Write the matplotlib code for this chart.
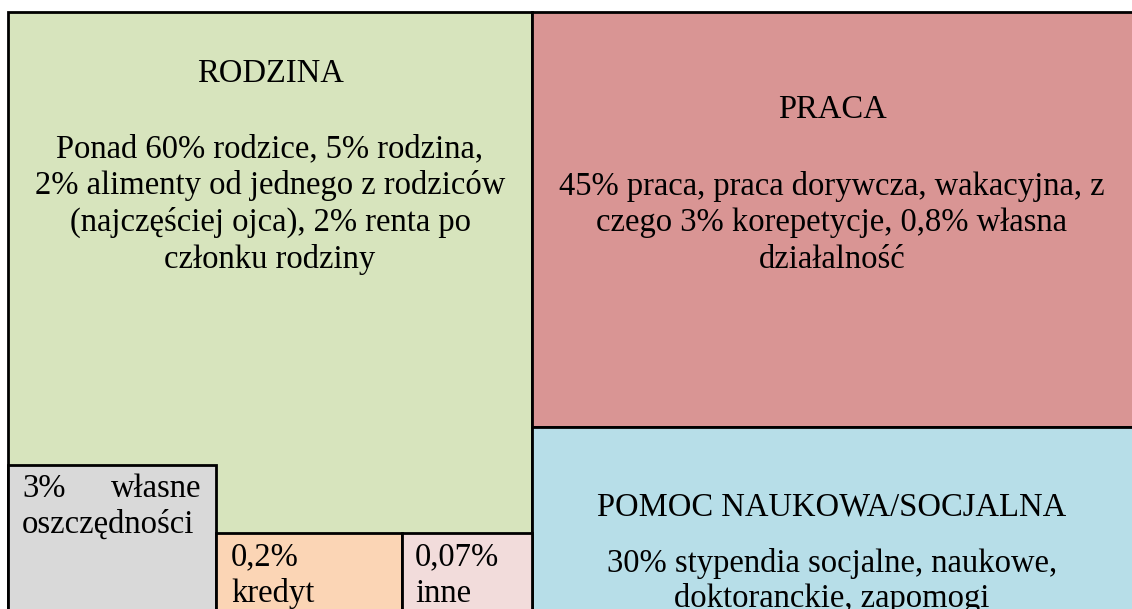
import matplotlib
matplotlib.use('Agg')
import matplotlib.pyplot as plt
from matplotlib.patches import Rectangle

# ── Data ────────────────────────────────────────────────────────────────
titles = ['RODZINA', 'PRACA', 'POMOC NAUKOWA/SOCJALNA', '', '', '']
bodies = [
    ['Ponad 60% rodzice, 5% rodzina,',
     '2% alimenty od jednego z rodziców',
     '(najczęściej ojca), 2% renta po',
     'członku rodziny'],
    ['45% praca, praca dorywcza, wakacyjna, z',
     'czego 3% korepetycje, 0,8% własna',
     'działalność'],
    ['30% stypendia socjalne, naukowe,',
     'doktoranckie, zapomogi'],
    ['3%', 'oszczędności'],
    ['0,2%', 'kredyt'],
    ['0,07%', 'inne'],
]
colors = ['#D7E4BD', '#D99594', '#B7DEE8', '#D9D9D9', '#FBD5B5', '#F2DCDB']

# ── Layout (pixels, origin top-left) ────────────────────────────────────
W, H = 1132, 609
boxes = [(8, 12, 524, 640), (532, 12, 640, 415), (532, 427, 640, 220),
         (8, 465, 208, 200), (216, 533, 186, 200), (402, 533, 130, 200)]
PITCH = 37
FONT = 'Liberation Serif'
FS = 23.5

fig = plt.figure(figsize=(W / 100, H / 100), dpi=100)
ax = fig.add_axes([0, 0, 1, 1])
ax.set_xlim(0, W)
ax.set_ylim(H, 0)
ax.axis('off')

for (x, y, w, h), c in zip(boxes, colors):
    ax.add_patch(Rectangle((x, y), w, h, facecolor=c, edgecolor='black',
                           linewidth=2))


def lines(xc, y0, text, ha='center', pitch=PITCH):
    for i, t in enumerate(text):
        ax.text(xc, y0 + i * pitch, t, ha=ha, va='baseline',
                family=FONT, fontsize=FS, color='black')


# box titles + descriptions
lines(270, 82, [titles[0]])
lines(270, 157, bodies[0])
lines(832, 118, [titles[1]])
lines(832, 195, bodies[1], pitch=36.5)
lines(832, 515, [titles[2]])
lines(832, 572, bodies[2], pitch=35)

# small boxes
lines(22, 497, bodies[3][:1], ha='left')
lines(201, 497, ['własne'], ha='right')
lines(22, 533, bodies[3][1:], ha='left')
lines(231, 565, bodies[4], ha='left')
lines(415, 565, bodies[5], ha='left')

fig.savefig('out.png', dpi=100)
plt.close(fig)
